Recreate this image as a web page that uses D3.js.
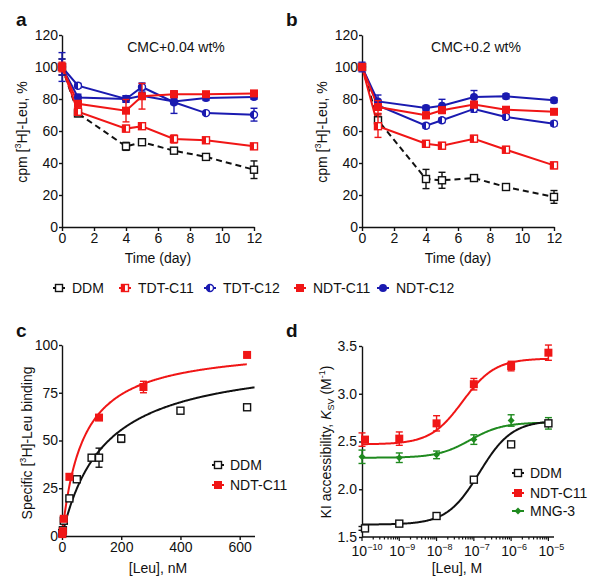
<!DOCTYPE html>
<html><head><meta charset="utf-8">
<script src="https://cdn.jsdelivr.net/npm/d3@7"></script>
<style>body{margin:0;background:#fff} text{font-family:"Liberation Sans",Arial,sans-serif;fill:#111}</style>
</head><body><svg id="c" width="600" height="588" xmlns="http://www.w3.org/2000/svg"></svg>
<script>
// ---------- data: panels a & b ----------
const days = [0, 1, 4, 5, 7, 9, 12];
const seriesNames = ["DDM", "TDT-C11", "TDT-C12", "NDT-C11", "NDT-C12"];
const timeTicks = [0, 2, 4, 6, 8, 10, 12];
const pctTicks = [0, 20, 40, 60, 80, 100, 120];

const aDDM     = [100, 71, 50.4, 53, 47.7, 43.8, 35.8];
const aDDMerr  = [5, 2, 2.5, 1.2, 1.2, 2, 5.5];
const aTDT11   = [100, 72, 61.5, 63, 55, 54.2, 50.4];
const aTDT11err= [2, 1.5, 2, 1.5, 2.5, 1.5, 1.5];
const aTDT12   = [100, 88.3, 80, 87.5, 78, 71.2, 70.2];
const aTDT12err= [9, 1.5, 2, 2.5, 7, 1, 4];
const aNDT11   = [100, 77, 72.7, 81.7, 83, 83, 83.5];
const aNDT11err= [3, 2, 7, 8, 2, 1.5, 1.5];
const aNDT12   = [100, 81, 80, 82, 78.5, 80.6, 81.3];
const aNDT12err= [5, 2, 2, 2, 2, 1.5, 1.5];

const bDDM     = [100, 66.7, 30, 29.2, 30.6, 25, 18.8];
const bDDMerr  = [2, 4, 6, 5, 1.5, 2, 4];
const bTDT11   = [100, 63, 52, 50.8, 55.2, 48.3, 38.5];
const bTDT11err= [2, 7, 2, 2, 2, 2, 2];
const bTDT12   = [100, 76, 63.3, 66.7, 73.8, 68.8, 64.6];
const bTDT12err= [2, 2, 1.5, 1.5, 2, 1.5, 1.5];
const bNDT11   = [100, 75, 69.8, 73, 76.5, 73.3, 72];
const bNDT11err= [2, 4, 2, 2, 2, 1.5, 1.5];
const bNDT12   = [100, 78.5, 74.4, 75.8, 81.3, 81.7, 79.2];
const bNDT12err= [3, 4, 1.5, 4, 4, 1.5, 1.5];

// ---------- data: panel c ----------
const cLeu = [0, 200, 400, 600];
const cTicks = [0, 25, 50, 75, 100];
const cDDMx   = [1, 3, 6, 25, 50, 100, 125, 200, 400, 625];
const cDDMy   = [1.5, 3, 8, 19.7, 29.7, 41, 41, 51, 65.6, 67.4];
const cDDMerr = [1, 1, 1, 1, 1, 1.5, 5, 2, 1, 1];
const cNDTx   = [1, 3, 6, 25, 125, 275, 625];
const cNDTy   = [1, 2.5, 9, 31, 62, 78, 94.8];
const cNDTerr = [1, 1, 1, 1.5, 1, 3, 1];
const cFitDDM = [94.7, 141];   // Bmax, Kd
const cFitNDT = [100, 70];

// ---------- data: panel d ----------
const dLeu = [1e-10, 1e-9, 1e-8, 1e-7, 1e-6, 1e-5];
const dTickExp = [-10, -9, -8, -7, -6, -5];
const dYTicks = [1.5, 2.0, 2.5, 3.0, 3.5];
const dDDM    = [1.59, 1.64, 1.72, 2.10, 2.47, 2.69];
const dDDMerr = [0.02, 0.02, 0.02, 0.02, 0.02, 0.03];
const dNDT    = [2.52, 2.53, 2.69, 3.10, 3.29, 3.43];
const dNDTerr = [0.07, 0.07, 0.08, 0.06, 0.05, 0.08];
const dMNG    = [2.34, 2.33, 2.36, 2.52, 2.72, 2.69];
const dMNGerr = [0.07, 0.05, 0.04, 0.05, 0.06, 0.06];
const dFitDDM = [1.63, 2.72, -6.85];  // bottom, top, logEC50
const dFitNDT = [2.47, 3.37, -7.3];
const dFitMNG = [2.33, 2.70, -7.1];

// ---------- styles ----------
const RED = "#f01616", BLUE = "#1a1ab0", GREEN = "#1f8a1f", BLACK = "#111";
const svg = d3.select("#c");
const FS = 14;

function marker(g, type, color, x, y, s) {
  const h = s / 2;
  if (type === "sqOpen" || type === "sqHalf") {
    g.append("rect").attr("x", x - h).attr("y", y - h).attr("width", s).attr("height", s)
      .attr("fill", "#fff").attr("stroke", color).attr("stroke-width", 1.4);
    if (type === "sqHalf") g.append("rect").attr("x", x - h).attr("y", y - h).attr("width", h).attr("height", s).attr("fill", color);
  } else if (type === "sqFill") {
    g.append("rect").attr("x", x - h - 0.5).attr("y", y - h - 0.5).attr("width", s + 1).attr("height", s + 1).attr("fill", color);
  } else if (type === "circFill") {
    g.append("circle").attr("cx", x).attr("cy", y).attr("r", h + 0.5).attr("fill", color);
  } else if (type === "circHalf") {
    g.append("circle").attr("cx", x).attr("cy", y).attr("r", h).attr("fill", "#fff").attr("stroke", color).attr("stroke-width", 1.4);
    g.append("path").attr("d", `M${x},${y - h}A${h},${h} 0 0 0 ${x},${y + h}Z`).attr("fill", color);
  } else if (type === "diamond") {
    g.append("path").attr("d", `M${x},${y - h}L${x + h},${y}L${x},${y + h}L${x - h},${y}Z`).attr("fill", color);
  }
}

function errBars(g, xs, ys, es, sx, sy, color, cap) {
  xs.forEach((xv, i) => {
    const X = sx(xv), y1 = sy(ys[i] + es[i]), y2 = sy(ys[i] - es[i]);
    g.append("line").attr("x1", X).attr("x2", X).attr("y1", y1).attr("y2", y2).attr("stroke", color).attr("stroke-width", 1.4);
    [y1, y2].forEach(yy => g.append("line").attr("x1", X - cap).attr("x2", X + cap).attr("y1", yy).attr("y2", yy).attr("stroke", color).attr("stroke-width", 1.4));
  });
}

function styleAxis(ax) {
  ax.selectAll("path,line").attr("stroke", BLACK).attr("stroke-width", 1.4);
  ax.selectAll("text").attr("font-size", FS).attr("fill", BLACK).style("font-family", '"Liberation Sans",Arial,sans-serif');
}

function panelLetter(t, x, y) {
  svg.append("text").attr("x", x).attr("y", y).attr("font-size", 19).attr("font-weight", "bold").text(t);
}

// ---------- panels a, b ----------
function timePanel(x0, title, data) {
  const sx = d3.scaleLinear().domain([0, 12]).range([x0, x0 + 192]);
  const sy = d3.scaleLinear().domain([0, 120]).range([227, 35]);
  const g = svg.append("g");
  const ax = g.append("g").attr("transform", "translate(0,227)")
    .call(d3.axisBottom(sx).tickValues(timeTicks).tickSize(4).tickPadding(2).tickSizeOuter(0));
  styleAxis(ax);
  const ay = g.append("g").attr("transform", `translate(${x0},0)`)
    .call(d3.axisLeft(sy).tickValues(pctTicks).tickSize(3).tickPadding(1).tickSizeOuter(0));
  styleAxis(ay);
  g.append("text").attr("x", x0 + 114).attr("y", 52).attr("text-anchor", "middle").attr("font-size", FS).text(title);
  g.append("text").attr("x", x0 + 96).attr("y", 263).attr("text-anchor", "middle").attr("font-size", FS).text("Time (day)");
  const yl = g.append("text").attr("transform", `translate(${x0 - 35},132) rotate(-90)`).attr("text-anchor", "middle").attr("font-size", FS);
  yl.append("tspan").text("cpm [");
  yl.append("tspan").attr("font-size", 9).attr("dy", -6).text("3");
  yl.append("tspan").attr("dy", 6).text("H]-Leu, %");

  const line = d3.line().x((d, i) => sx(days[i])).y(d => sy(d));
  data.forEach(s => {
    g.append("path").attr("d", line(s.v)).attr("fill", "none").attr("stroke", s.color)
      .attr("stroke-width", 2).attr("stroke-dasharray", s.dash || null);
  });
  data.forEach(s => {
    errBars(g, days, s.v, s.e, sx, sy, s.color, 3.5);
    s.v.forEach((v, i) => marker(g, s.m, s.color, sx(days[i]), sy(v), 7));
  });
}
const mk = {DDM: "sqOpen", "TDT-C11": "sqHalf", "TDT-C12": "circHalf", "NDT-C11": "sqFill", "NDT-C12": "circFill"};
const col = {DDM: BLACK, "TDT-C11": RED, "TDT-C12": BLUE, "NDT-C11": RED, "NDT-C12": BLUE};

timePanel(62, "CMC+0.04 wt%", [
  {v: aDDM, e: aDDMerr, color: BLACK, m: mk.DDM, dash: "6,4"},
  {v: aTDT12, e: aTDT12err, color: BLUE, m: mk["TDT-C12"]},
  {v: aNDT12, e: aNDT12err, color: BLUE, m: mk["NDT-C12"]},
  {v: aTDT11, e: aTDT11err, color: RED, m: mk["TDT-C11"]},
  {v: aNDT11, e: aNDT11err, color: RED, m: mk["NDT-C11"]}
]);
timePanel(362, "CMC+0.2 wt%", [
  {v: bDDM, e: bDDMerr, color: BLACK, m: mk.DDM, dash: "6,4"},
  {v: bTDT12, e: bTDT12err, color: BLUE, m: mk["TDT-C12"]},
  {v: bNDT12, e: bNDT12err, color: BLUE, m: mk["NDT-C12"]},
  {v: bTDT11, e: bTDT11err, color: RED, m: mk["TDT-C11"]},
  {v: bNDT11, e: bNDT11err, color: RED, m: mk["NDT-C11"]}
]);
panelLetter("a", 16, 26);
panelLetter("b", 286, 26);

// legend row
const legX = [59, 125, 210, 300, 383];
seriesNames.forEach((n, i) => {
  const x = legX[i], y = 288;
  svg.append("line").attr("x1", x - 6).attr("x2", x + 6).attr("y1", y).attr("y2", y).attr("stroke", col[n]).attr("stroke-width", 2);
  marker(svg, mk[n], col[n], x, y, 7);
  svg.append("text").attr("x", x + 13).attr("y", y + 5).attr("font-size", FS).text(n);
});

// ---------- panel c ----------
{
  const sx = d3.scaleLinear().domain([0, 650]).range([62, 254.5]);
  const sy = d3.scaleLinear().domain([0, 100]).range([536, 345]);
  const g = svg.append("g");
  styleAxis(g.append("g").attr("transform", "translate(0,536)")
    .call(d3.axisBottom(sx).tickValues(cLeu).tickSize(4).tickPadding(2).tickSizeOuter(0)));
  styleAxis(g.append("g").attr("transform", "translate(62,0)")
    .call(d3.axisLeft(sy).tickValues(cTicks).tickSize(3).tickPadding(1).tickSizeOuter(0)));
  g.append("text").attr("x", 158).attr("y", 573).attr("text-anchor", "middle").attr("font-size", FS).text("[Leu], nM");
  const yl = g.append("text").attr("transform", "translate(32,443) rotate(-90)").attr("text-anchor", "middle").attr("font-size", FS);
  yl.append("tspan").text("Specific [");
  yl.append("tspan").attr("font-size", 9).attr("dy", -6).text("3");
  yl.append("tspan").attr("dy", 6).text("H]-Leu binding");

  const hyp = (p, x) => p[0] * x / (p[1] + x);
  const xsD = d3.range(0, 650.1, 2), xsN = d3.range(0, 625.1, 2);
  const ln = p => d3.line().x(d => sx(d)).y(d => sy(hyp(p, d)));
  g.append("path").attr("d", ln(cFitDDM)(xsD)).attr("fill", "none").attr("stroke", BLACK).attr("stroke-width", 2);
  g.append("path").attr("d", ln(cFitNDT)(xsN)).attr("fill", "none").attr("stroke", RED).attr("stroke-width", 2);
  errBars(g, cDDMx, cDDMy, cDDMerr, sx, sy, BLACK, 3.5);
  cDDMx.forEach((x, i) => marker(g, "sqOpen", BLACK, sx(x), sy(cDDMy[i]), 7));
  errBars(g, cNDTx, cNDTy, cNDTerr, sx, sy, RED, 3.5);
  cNDTx.forEach((x, i) => marker(g, "sqFill", RED, sx(x), sy(cNDTy[i]), 7));

  [["DDM", BLACK, "sqOpen", 465], ["NDT-C11", RED, "sqFill", 485]].forEach(([n, c, m, y]) => {
    g.append("line").attr("x1", 212).attr("x2", 224).attr("y1", y).attr("y2", y).attr("stroke", c).attr("stroke-width", 2);
    marker(g, m, c, 218, y, 7);
    g.append("text").attr("x", 230).attr("y", y + 5).attr("font-size", FS).text(n);
  });
}
panelLetter("c", 16, 337);
panelLetter("d", 286, 337);

// ---------- panel d ----------
{
  const sx = d3.scaleLog().domain([1e-10, Math.pow(10, -4.85)]).range([362, 554]);
  const sy = d3.scaleLinear().domain([1.5, 3.5]).range([537, 346]);
  const g = svg.append("g");
  const ax = g.append("g").attr("transform", "translate(0,537)");
  ax.append("line").attr("x1", 362).attr("x2", 554).attr("y1", 0).attr("y2", 0).attr("stroke", BLACK).attr("stroke-width", 1.4);
  dTickExp.forEach(e => {
    for (let k = 1; k <= 9; k++) {
      const v = k * Math.pow(10, e);
      if (v > Math.pow(10, -4.85)) break;
      const X = sx(v);
      ax.append("line").attr("x1", X).attr("x2", X).attr("y1", 0).attr("y2", k === 1 ? 4 : 2.5).attr("stroke", BLACK).attr("stroke-width", 1.2);
    }
    const t = ax.append("text").attr("x", sx(Math.pow(10, e)) + (e === -10 ? 5 : 3)).attr("y", 19).attr("text-anchor", "middle").attr("font-size", FS);
    t.append("tspan").text("10");
    t.append("tspan").attr("font-size", 9).attr("dy", -6).text(String(e).replace("-", "\u2212"));
  });
  styleAxis(g.append("g").attr("transform", "translate(362,0)")
    .call(d3.axisLeft(sy).tickValues(dYTicks).tickFormat(d3.format(".1f")).tickSize(3).tickPadding(2).tickSizeOuter(0)));
  g.append("text").attr("x", 457).attr("y", 573).attr("text-anchor", "middle").attr("font-size", FS).text("[Leu], M");
  const yl = g.append("text").attr("transform", "translate(331,442) rotate(-90)").attr("text-anchor", "middle").attr("font-size", FS);
  yl.append("tspan").text("KI accessibility, ");
  yl.append("tspan").attr("font-style", "italic").text("K");
  yl.append("tspan").attr("font-size", 9).attr("dy", 3).text("SV");
  yl.append("tspan").attr("dy", -3).text(" (M");
  yl.append("tspan").attr("font-size", 9).attr("dy", -6).text("-1");
  yl.append("tspan").attr("dy", 6).text(")");

  const logistic = (p, x) => p[0] + (p[1] - p[0]) / (1 + Math.pow(10, p[2] - Math.log10(x)));
  const xs = d3.range(-10, -4.999, 0.02).map(e => Math.pow(10, e));
  const ln = p => d3.line().x(d => sx(d)).y(d => sy(logistic(p, d)));
  [[dFitMNG, GREEN], [dFitDDM, BLACK], [dFitNDT, RED]].forEach(([p, c]) =>
    g.append("path").attr("d", ln(p)(xs)).attr("fill", "none").attr("stroke", c).attr("stroke-width", 2));

  errBars(g, dLeu, dMNG, dMNGerr, sx, sy, GREEN, 3.5);
  dLeu.forEach((x, i) => marker(g, "diamond", GREEN, sx(x), sy(dMNG[i]), 7));
  errBars(g, dLeu, dDDM, dDDMerr, sx, sy, BLACK, 3.5);
  dLeu.forEach((x, i) => marker(g, "sqOpen", BLACK, sx(x) + (i === 0 ? 3 : 0), sy(dDDM[i]), 7));
  errBars(g, dLeu, dNDT, dNDTerr, sx, sy, RED, 3.5);
  dLeu.forEach((x, i) => marker(g, "sqFill", RED, sx(x) + (i === 0 ? 3 : 0), sy(dNDT[i]), 7));

  [["DDM", BLACK, "sqOpen", 473], ["NDT-C11", RED, "sqFill", 493], ["MNG-3", GREEN, "diamond", 511]].forEach(([n, c, m, y]) => {
    g.append("line").attr("x1", 512).attr("x2", 524).attr("y1", y).attr("y2", y).attr("stroke", c).attr("stroke-width", 2);
    marker(g, m, c, 518, y, 7);
    g.append("text").attr("x", 530).attr("y", y + 5).attr("font-size", FS).text(n);
  });
}
</script></body></html>
